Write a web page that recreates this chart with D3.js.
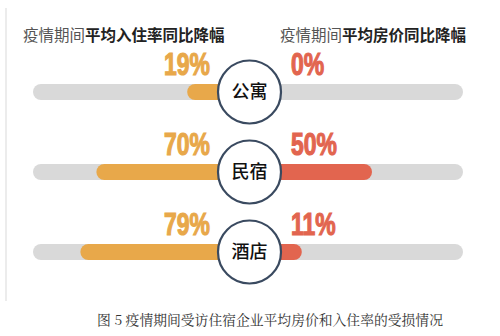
<!DOCTYPE html>
<html><head><meta charset="utf-8">
<script src="https://cdn.jsdelivr.net/npm/d3@7"></script>
<style>
html,body{margin:0;padding:0;background:#fff;}
svg{display:block;}
</style></head>
<body>
<script>
const categories = ["公寓", "民宿", "酒店"];
const occupancyDrop = [19, 70, 79];
const priceDrop = [0, 50, 11];
const leftTitleLight = "疫情期间";
const leftTitleBold = "平均入住率同比降幅";
const rightTitleLight = "疫情期间";
const rightTitleBold = "平均房价同比降幅";
const caption = "图 5  疫情期间受访住宿企业平均房价和入住率的受损情况";

const W = 500, H = 336;
const svg = d3.select("body").append("svg").attr("width", W).attr("height", H);

const cx = 249.5, r = 31.5, barH = 16;
const y = d3.scalePoint().domain(categories).range([92, 252]);
const xL = d3.scaleLinear().domain([0, 100]).range([221, 43]);
const xR = d3.scaleLinear().domain([0, 100]).range([282, 462]);

const orange = "#e8a84a", red = "#e2654f", track = "#d9d9d9";
const cjk = "'Noto Sans CJK SC','Noto Sans',sans-serif";
const numFont = "'Liberation Sans','Arial',sans-serif";
const sx = 0.74;

// faint card edge
svg.append("line").attr("x1", 6).attr("x2", 6).attr("y1", 8).attr("y2", 301)
  .attr("stroke", "#ececec").attr("stroke-width", 2);

// titles
const t1 = svg.append("text").attr("x", 23).attr("y", 41)
  .attr("font-family", cjk).attr("font-size", 15.5);
t1.append("tspan").attr("fill", "#555").attr("font-weight", 400).text(leftTitleLight);
t1.append("tspan").attr("fill", "#222").attr("font-weight", 700).text(leftTitleBold);
const t2 = svg.append("text").attr("x", 280).attr("y", 41)
  .attr("font-family", cjk).attr("font-size", 15.5);
t2.append("tspan").attr("fill", "#555").attr("font-weight", 400).text(rightTitleLight);
t2.append("tspan").attr("fill", "#222").attr("font-weight", 700).text(rightTitleBold);

const rows = categories.map((c, i) => ({c, occ: occupancyDrop[i], price: priceDrop[i]}));

// tracks
svg.selectAll(".trackL").data(rows).join("rect")
  .attr("x", 33).attr("y", d => y(d.c) - barH / 2)
  .attr("width", cx - 33).attr("height", barH).attr("rx", barH / 2)
  .attr("fill", track);
svg.selectAll(".trackR").data(rows).join("rect")
  .attr("x", cx).attr("y", d => y(d.c) - barH / 2)
  .attr("width", xR(100) + 1 - cx).attr("height", barH).attr("rx", barH / 2)
  .attr("fill", track);

// value bars
svg.selectAll(".barL").data(rows.filter(d => d.occ > 0)).join("rect")
  .attr("x", d => xL(d.occ)).attr("y", d => y(d.c) - barH / 2)
  .attr("width", d => cx - xL(d.occ)).attr("height", barH).attr("rx", barH / 2)
  .attr("fill", orange);
svg.selectAll(".barR").data(rows.filter(d => d.price > 0)).join("rect")
  .attr("x", cx).attr("y", d => y(d.c) - barH / 2)
  .attr("width", d => xR(d.price) - cx).attr("height", barH).attr("rx", barH / 2)
  .attr("fill", red);

// value labels (condensed via horizontal scale)
svg.selectAll(".lblL").data(rows).join("g")
  .attr("transform", d => `translate(210,${y(d.c) - 17}) scale(${sx},1)`)
  .append("text")
  .attr("text-anchor", "end")
  .attr("font-family", numFont).attr("font-weight", 700).attr("font-size", 31)
  .attr("fill", orange).attr("stroke", orange).attr("stroke-width", 1.2)
  .text(d => d.occ + "%");
svg.selectAll(".lblR").data(rows).join("g")
  .attr("transform", d => `translate(291,${y(d.c) - 17}) scale(${sx},1)`)
  .append("text")
  .attr("text-anchor", "start")
  .attr("font-family", numFont).attr("font-weight", 700).attr("font-size", 31)
  .attr("fill", red).attr("stroke", red).attr("stroke-width", 1.2)
  .text(d => d.price + "%");

// circles
svg.selectAll(".circ").data(rows).join("circle")
  .attr("cx", cx).attr("cy", d => y(d.c)).attr("r", r)
  .attr("fill", "#fff").attr("stroke", "#3a4a60").attr("stroke-width", 2.2);
svg.selectAll(".cat").data(rows).join("text")
  .attr("x", cx).attr("y", d => y(d.c)).attr("dy", "0.36em")
  .attr("text-anchor", "middle")
  .attr("font-family", cjk).attr("font-weight", 500).attr("font-size", 18)
  .attr("fill", "#111").text(d => d.c);

// caption
svg.append("text").attr("x", 270).attr("y", 325).attr("text-anchor", "middle")
  .attr("font-family", "'Noto Serif CJK SC','Noto Sans CJK SC',serif")
  .attr("font-size", 13.8).attr("fill", "#333").text(caption);
</script>
</body></html>
